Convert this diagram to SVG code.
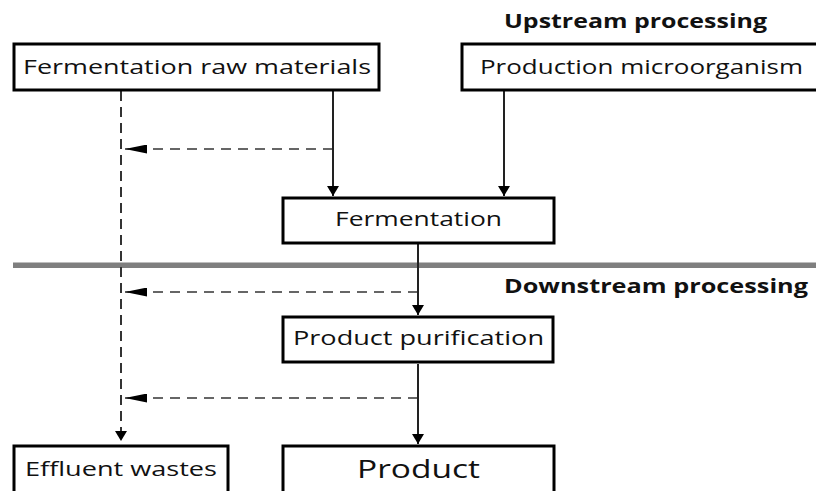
<svg xmlns="http://www.w3.org/2000/svg" width="816" height="491" viewBox="0 0 816 491">
<style>
.box{fill:#fff;stroke:#000;stroke-width:3}
.t{font-family:"Open Sans","Noto Sans","Liberation Sans",sans-serif;font-size:20px;fill:#111}
.h{font-family:"Open Sans","Noto Sans","Liberation Sans",sans-serif;font-size:19px;font-weight:bold;fill:#111}
.solid{stroke:#222;stroke-width:2;fill:none}
.dash{stroke:#333;stroke-width:2;fill:none;stroke-dasharray:10 6}
.dashg{stroke:#666;stroke-width:2.2;fill:none;stroke-dasharray:10 7}
</style>
<defs>
<marker id="ah" viewBox="0 0 10 12" refX="10" refY="6" markerWidth="10" markerHeight="12" markerUnits="userSpaceOnUse" orient="auto">
<path d="M0,0 L10,6 L0,12 Z" fill="#000"/>
</marker>
<marker id="ahl" viewBox="0 0 22 9" refX="22" refY="4.5" markerWidth="22" markerHeight="9" markerUnits="userSpaceOnUse" orient="auto">
<path d="M0,0 L22,4.5 L0,9 Z" fill="#000"/>
</marker>
</defs>
<rect x="13" y="262.5" width="803" height="5.5" fill="#7f7f7f"/>
<g id="connectors">
<line class="dash" x1="121" y1="91" x2="121" y2="441" marker-end="url(#ah)"/>
<line class="dashg" x1="333" y1="149" x2="125" y2="149" marker-end="url(#ahl)"/>
<line class="dashg" x1="418" y1="292" x2="125" y2="292" marker-end="url(#ahl)"/>
<line class="dashg" x1="418" y1="398" x2="125" y2="398" marker-end="url(#ahl)"/>
<line class="solid" x1="333" y1="91" x2="333" y2="196" marker-end="url(#ah)"/>
<line class="solid" x1="504" y1="91" x2="504" y2="196" marker-end="url(#ah)"/>
<line class="solid" x1="418" y1="244" x2="418" y2="315" marker-end="url(#ah)"/>
<line class="solid" x1="418" y1="364" x2="418" y2="444" marker-end="url(#ah)"/>
</g>
<g id="label-upstream"><text class="h" x="504" y="28" textLength="263" lengthAdjust="spacingAndGlyphs">Upstream processing</text></g>
<g id="label-downstream"><text class="h" x="504" y="293" textLength="304" lengthAdjust="spacingAndGlyphs">Downstream processing</text></g>
<g id="raw-materials">
<rect class="box" x="14" y="44" width="365" height="46"/>
<text class="t" x="23" y="74" textLength="348" lengthAdjust="spacingAndGlyphs">Fermentation raw materials</text>
</g>
<g id="microorganism">
<rect class="box" x="462" y="44" width="360" height="46"/>
<text class="t" x="480" y="74" textLength="323" lengthAdjust="spacingAndGlyphs">Production microorganism</text>
</g>
<g id="fermentation">
<rect class="box" x="283" y="198" width="271" height="45"/>
<text class="t" x="335" y="226" textLength="167" lengthAdjust="spacingAndGlyphs">Fermentation</text>
</g>
<g id="purification">
<rect class="box" x="283" y="317" width="270" height="45"/>
<text class="t" x="293" y="345" textLength="251" lengthAdjust="spacingAndGlyphs">Product purification</text>
</g>
<g id="effluent">
<rect class="box" x="14" y="446" width="214" height="50"/>
<text class="t" x="25" y="476" textLength="192" lengthAdjust="spacingAndGlyphs">Effluent wastes</text>
</g>
<g id="product">
<rect class="box" x="283" y="446" width="271" height="50"/>
<text class="t" x="357" y="478" style="font-size:26px" textLength="123" lengthAdjust="spacingAndGlyphs">Product</text>
</g>
</svg>
